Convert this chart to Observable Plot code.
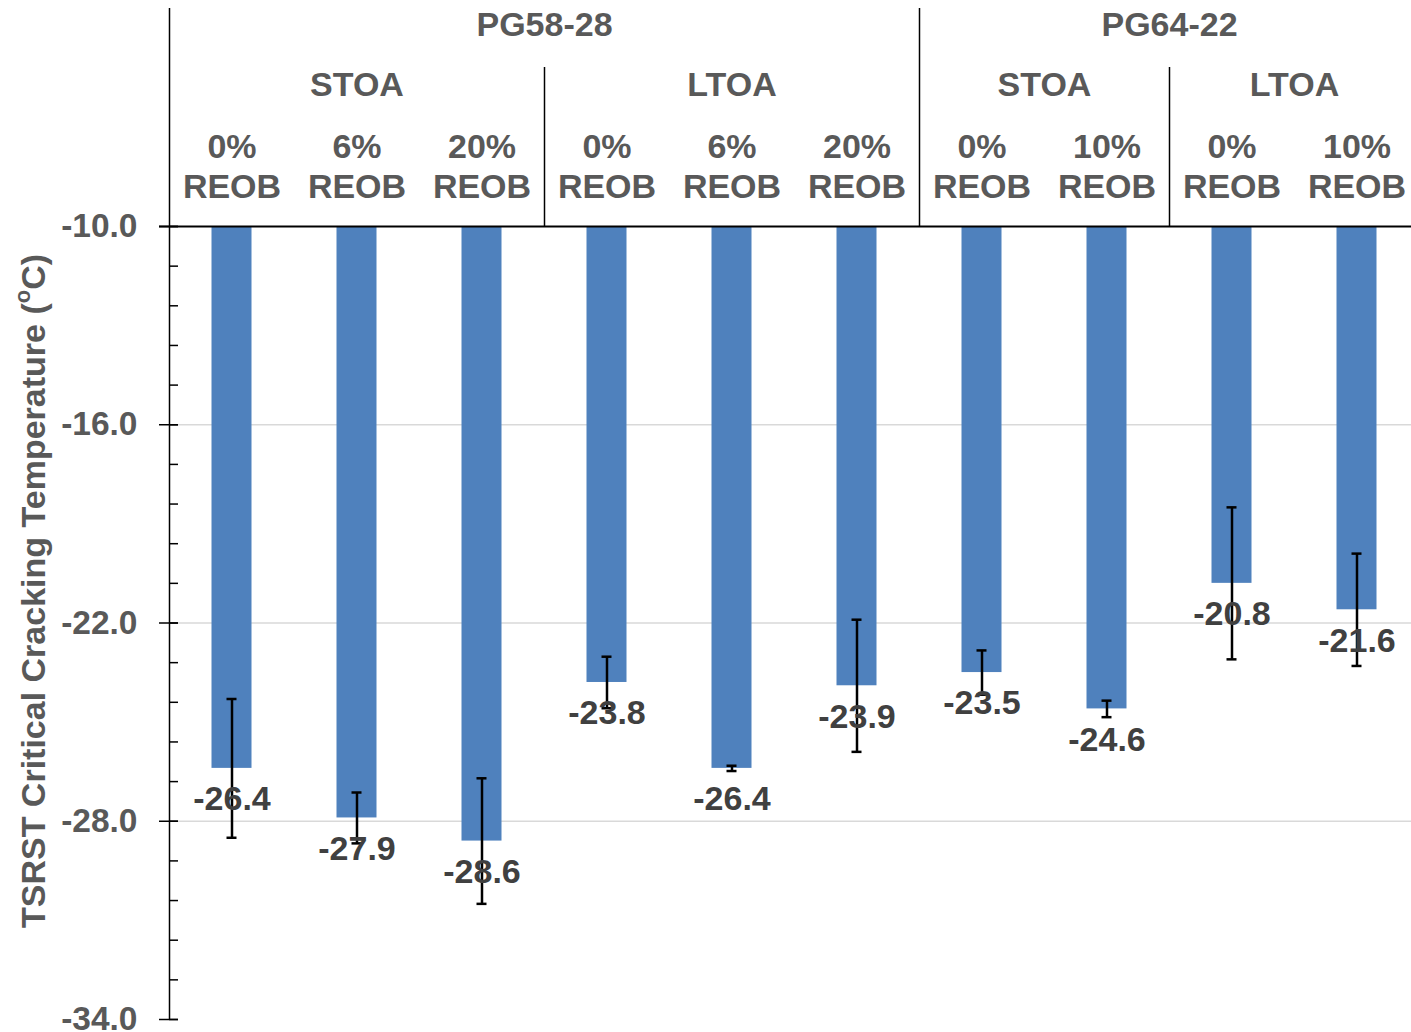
<!DOCTYPE html>
<html>
<head>
<meta charset="utf-8">
<script src="https://cdn.jsdelivr.net/npm/d3@7"></script>
<script src="https://cdn.jsdelivr.net/npm/@observablehq/plot@0.6"></script>
<style>
  html, body { margin: 0; padding: 0; background: #ffffff; }
  #chart svg { display: block; }
</style>
</head>
<body>
<div id="chart"></div>
<script>
// ---- data ----
const binder = ["PG58-28","PG58-28","PG58-28","PG58-28","PG58-28","PG58-28","PG64-22","PG64-22","PG64-22","PG64-22"];
const aging  = ["STOA","STOA","STOA","LTOA","LTOA","LTOA","STOA","STOA","LTOA","LTOA"];
const reob   = ["0%","6%","20%","0%","6%","20%","0%","10%","0%","10%"];
const temp   = [-26.4,-27.9,-28.6,-23.8,-26.4,-23.9,-23.5,-24.6,-20.8,-21.6];
const err    = [2.1,0.77,1.9,0.78,0.08,2.0,0.67,0.25,2.3,1.7];
const yTicks = [-10,-16,-22,-28,-34];
const yGrid  = [-16,-22,-28];
const yTitle = ["TSRST Critical Cracking Temperature (", "o", "C)"];

// ---- layout / style ----
const W = 1411, H = 1032, mt = 226, ml = 169, mr = 0, mb = 13;
const slotW = 125; // the last category slot runs past the right edge, as in the original
const frameW = W - ml - mr, frameH = H - mt - mb;
const font = "'Liberation Sans', Arial, sans-serif";
const gray = "#595959", dark = "#404040", blue = "#4F81BD";
const barHalf = 0.16, capHalf = 0.04;

const data = temp.map((t, i) => ({
  x: i + 0.5, binder: binder[i], aging: aging[i], reob: reob[i],
  temp: t, lo: t - err[i], hi: t + err[i]
}));

// consecutive runs -> groups
function runs(keyFn) {
  const out = [];
  data.forEach((d, i) => {
    const k = keyFn(d);
    const last = out[out.length - 1];
    if (last && last.key === k) { last.end = i + 1; }
    else out.push({key: k, start: i, end: i + 1, d});
  });
  out.forEach(g => g.center = (g.start + g.end) / 2);
  return out;
}
const binderGroups = runs(d => d.binder).map(g => ({...g, label: g.d.binder}));
const agingGroups = runs(d => d.binder + "|" + d.aging).map(g => ({...g, label: g.d.aging}));
const binderSeps = binderGroups.slice(1).map(g => g.start);
const agingSeps = agingGroups.filter(g => !binderSeps.includes(g.start) && g.start > 0).map(g => g.start);

// minor ticks every 1.2 (5 per major interval)
const minorTicks = d3.range(0, 21).map(k => -34 + k * 1.2);

const headerText = {frameAnchor: "top", lineAnchor: "middle", fontWeight: "bold", fill: gray};

const chart = Plot.plot({
  width: W, height: H,
  marginTop: mt, marginLeft: ml, marginRight: mr, marginBottom: mb,
  style: {fontFamily: font, background: "#ffffff"},
  x: {domain: [0, data.length], range: [ml, ml + slotW * data.length], axis: null},
  y: {domain: [-34, -10], axis: null},
  marks: [
    Plot.ruleY(yGrid, {stroke: "#d9d9d9", strokeWidth: 1.5}),
    Plot.rect(data, {x1: d => d.x - barHalf, x2: d => d.x + barHalf, y1: -10, y2: "temp", fill: blue}),
    // inner ticks
    Plot.ruleY(minorTicks, {stroke: "#000", strokeWidth: 1.5, insetRight: frameW - 9}),
    Plot.ruleY(yTicks, {stroke: "#000", strokeWidth: 1.5, insetLeft: -10, insetRight: frameW - 9}),
    Plot.axisY(yTicks, {tickSize: 0, tickPadding: 32, tickFormat: d => d.toFixed(1),
      fontSize: 33.5, fontWeight: "bold", fill: gray, label: null}),
    // axis lines & header separators
    Plot.ruleY([-10], {stroke: "#000", strokeWidth: 2, insetLeft: -10}),
    Plot.ruleX([0], {stroke: "#000", strokeWidth: 1.5, insetTop: -(mt - 8)}),
    Plot.ruleX(binderSeps, {stroke: "#000", strokeWidth: 1.5, insetTop: -(mt - 8), insetBottom: frameH}),
    Plot.ruleX(agingSeps, {stroke: "#000", strokeWidth: 1.5, insetTop: -(mt - 67), insetBottom: frameH}),
    // error bars
    Plot.ruleX(data, {x: "x", y1: "lo", y2: "hi", stroke: "#000", strokeWidth: 2.5}),
    Plot.ruleY(data, {y: "lo", x1: d => d.x - capHalf, x2: d => d.x + capHalf, stroke: "#000", strokeWidth: 2.5}),
    Plot.ruleY(data, {y: "hi", x1: d => d.x - capHalf, x2: d => d.x + capHalf, stroke: "#000", strokeWidth: 2.5}),
    // value labels
    Plot.text(data, {x: "x", y: "temp", text: d => d.temp.toFixed(1), dy: 31,
      fontSize: 34, fontWeight: "bold", fill: dark}),
    // header labels
    Plot.text(data, {...headerText, x: "x", text: d => `${d.reob}\nREOB`, dy: -61,
      lineHeight: 40 / 34, fontSize: 34}),
    Plot.text(agingGroups, {...headerText, x: "center", text: "label", dy: -141, fontSize: 34}),
    Plot.text(binderGroups, {...headerText, x: "center", text: "label", dy: -201, fontSize: 34})
  ]
});

// y-axis title with superscript
const svg = d3.select(chart);
const t = svg.append("text")
  .attr("transform", `translate(33,${591}) rotate(-90)`)
  .attr("text-anchor", "middle")
  .attr("dominant-baseline", "central")
  .attr("font-family", font)
  .attr("font-size", 34)
  .attr("font-weight", "bold")
  .attr("fill", gray);
t.append("tspan").text(yTitle[0]);
t.append("tspan").attr("font-size", 22).attr("dy", -11).text(yTitle[1]);
t.append("tspan").attr("dy", 11).text(yTitle[2]);

document.getElementById("chart").append(chart);
</script>
</body>
</html>
